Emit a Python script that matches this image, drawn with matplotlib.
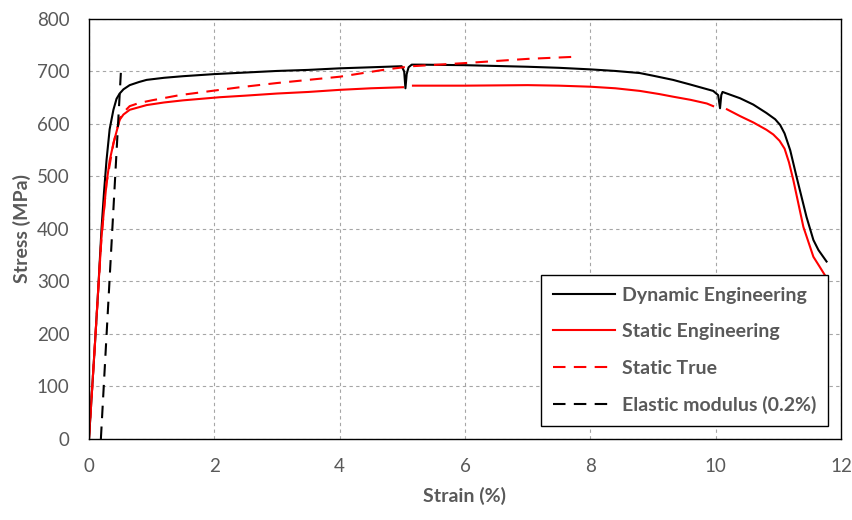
import numpy as np
import matplotlib
matplotlib.use("Agg")
import matplotlib.pyplot as plt

plt.rcParams["font.family"] = ["Lato", "DejaVu Sans"]

nan = np.nan

# Dynamic engineering curve (black)
dyn_x = [0, 0.05, 0.1, 0.15, 0.2, 0.24, 0.28, 0.33, 0.39, 0.44, 0.49, 0.55, 0.65, 0.8, 0.92,
         1.2, 1.5, 2.0, 2.5, 3.0, 3.5, 4.0, 4.5, 4.99, 5.03, 5.05, 5.07, 5.1, 5.15, 5.3,
         6.0, 7.0, 7.5, 8.0, 8.4, 8.79, 9.0, 9.32, 9.6, 9.96, 10.04, 10.07, 10.09, 10.11,
         10.39, 10.6, 10.81, 10.95, 11.03, 11.1, 11.19, 11.29, 11.45, 11.56, 11.64, 11.77]
dyn_y = [0, 95, 190, 290, 400, 470, 531, 590, 627, 648, 658, 666, 674, 680, 684,
         688, 691, 695, 698, 701, 703, 706, 708, 710, 700, 668, 695, 708, 713, 713,
         712, 709, 707, 704, 701, 697, 692, 684, 675, 663, 655, 630, 655, 661,
         649, 637, 621, 609, 598, 582, 550, 500, 423, 379, 360, 338]

# Static engineering curve (red, solid) - gaps where data is missing
seng_x = [0, 0.05, 0.1, 0.15, 0.2, 0.25, 0.28, 0.33, 0.39, 0.45, 0.49, 0.55, 0.65, 0.8, 0.92,
          1.2, 1.5, 2.09, 2.5, 3.0, 3.5, 4.0, 4.5, 5.01, nan, 5.17, 6.0, 7.0, 7.5, 8.0, 8.4,
          8.79, 9.1, 9.32, 9.6, 9.86, 9.96, nan, 10.18, 10.39, 10.6, 10.81, 10.92, 11.02,
          11.1, 11.17, 11.24, 11.4, 11.56, 11.65, 11.78]
seng_y = [0, 95, 190, 290, 385, 450, 487, 530, 563, 590, 608, 618, 627, 632, 636,
          641, 645, 651, 654, 658, 661, 665, 668, 670, nan, 673, 673, 674, 673, 671, 668,
          663, 657, 652, 646, 639, 634, nan, 628, 615, 603, 589, 580, 568,
          553, 527, 493, 404, 347, 330, 305]

# Static true curve (red, dashed)
strue_x = [0, 0.1, 0.2, 0.28, 0.39, 0.49, 0.55, 0.65, 0.8, 1.0, 1.45, 2.09, 2.41,
           3.0, 4.0, 4.75, 5.15, 6.0, 7.0, 7.76]
strue_y = [0, 190, 385, 487, 563, 610, 622, 634, 640, 645, 655, 665, 670,
           678, 690, 704, 710, 716, 724, 728]

# 0.2% offset elastic modulus line
mod_x = [0.19, 0.51]
mod_y = [0, 700]

gray = "#595959"

fig = plt.figure(figsize=(8.53, 5.2), dpi=100)
ax = fig.add_axes([0.1043, 0.1558, 0.8816, 0.8077])

ax.plot(dyn_x, dyn_y, color="black", lw=1.5, label="Dynamic Engineering")
ax.plot(seng_x, seng_y, color="#FF0000", lw=1.5, label="Static Engineering")
ax.plot(strue_x, strue_y, color="#FF0000", lw=1.5, dashes=(6, 4), label="Static True")
ax.plot(mod_x, mod_y, color="black", lw=1.5, dashes=(6, 4), label="Elastic modulus (0.2%)")

ax.set_xlim(0, 12)
ax.set_ylim(0, 800)
ax.set_xticks(np.arange(0, 13, 2))
ax.set_yticks(np.arange(0, 801, 100))
ax.grid(True, color="#A6A6A6", lw=0.8, dashes=(3, 3))
ax.set_axisbelow(True)
ax.tick_params(length=0, labelsize=13.5, labelcolor=gray)
ax.tick_params(axis="x", pad=14)
ax.tick_params(axis="y", pad=14)
for s in ax.spines.values():
    s.set_color("black")
    s.set_linewidth(1)

ax.set_xlabel("Strain (%)", fontsize=14, fontweight="bold", color=gray, labelpad=8)
ax.set_ylabel("Stress (MPa)", fontsize=14, fontweight="bold", color=gray, labelpad=4)

leg = ax.legend(loc="upper right", bbox_to_anchor=(0.983, 0.39), borderaxespad=0,
                fancybox=False, edgecolor="black", framealpha=1,
                prop={"size": 14, "weight": "bold"}, handlelength=3.2,
                handletextpad=0.38, labelspacing=1.0, borderpad=0.6)
leg.get_frame().set_linewidth(1)
for t in leg.get_texts():
    t.set_color(gray)

fig.savefig("out.png", dpi=100)
